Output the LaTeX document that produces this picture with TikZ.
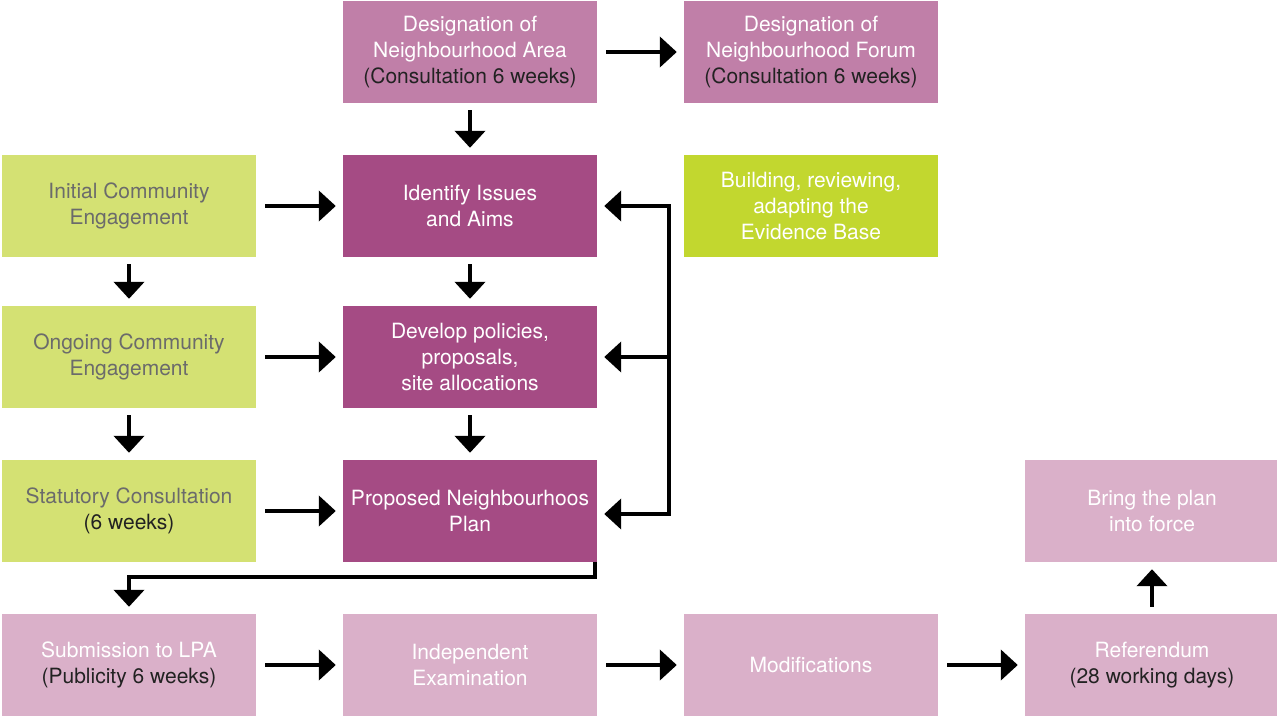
\documentclass[tikz,border=0pt]{standalone}
\usepackage{fontspec}
\setmainfont{TeX Gyre Heros}
\usetikzlibrary{arrows.meta,calc}
\definecolor{mauve}{HTML}{C07FA8}
\definecolor{plum}{HTML}{A54B84}
\definecolor{pale}{HTML}{DAB0C9}
\definecolor{leaf}{HTML}{D4E173}
\definecolor{lime}{HTML}{C2D72F}
\definecolor{greytext}{HTML}{6B6B6B}
\definecolor{darktext}{HTML}{222222}
\newcommand{\dk}[1]{\textcolor{darktext}{#1}}
\tikzstyle{box}=[rectangle,minimum width=254pt,minimum height=102pt,inner sep=0pt,align=center,font=\fontsize{21}{26}\selectfont]
\tikzstyle{mauvebox}=[box,fill=mauve,text=white]
\tikzstyle{plumbox}=[box,fill=plum,text=white]
\tikzstyle{palebox}=[box,fill=pale,text=white]
\tikzstyle{leafbox}=[box,fill=leaf,text=greytext]
\tikzstyle{limebox}=[box,fill=lime,text=white]
\tikzstyle{edge}=[draw,line width=4.5pt,-{Triangle[width=30pt,length=17pt]}]
\tikzstyle{bar}=[draw,line width=4.5pt]
\begin{document}
\begin{tikzpicture}[x=1pt,y=-1pt]
\useasboundingbox (0,0) rectangle (1277,716);

% boxes
\foreach \pos/\name/\sty/\txt in {
    {(470,52)/area/mauvebox/{Designation of\\Neighbourhood Area\\\dk{(Consultation 6 weeks)}}},
    {(811,52)/forum/mauvebox/{Designation of\\Neighbourhood Forum\\\dk{(Consultation 6 weeks)}}},
    {(129,206)/initial/leafbox/{Initial Community\\Engagement}},
    {(470,206)/issues/plumbox/{Identify Issues\\and Aims}},
    {(811,206)/evidence/limebox/{Building, reviewing,\\adapting the\\Evidence Base}},
    {(129,357)/ongoing/leafbox/{Ongoing Community\\Engagement}},
    {(470,357)/policies/plumbox/{Develop policies,\\proposals,\\site allocations}},
    {(129,511)/statutory/leafbox/{Statutory Consultation\\\dk{(6 weeks)}}},
    {(470,511)/proposed/plumbox/{Proposed Neighbourhoos\\Plan}},
    {(1152,511)/force/palebox/{Bring the plan\\into force}},
    {(129,665)/submission/palebox/{Submission to LPA\\\dk{(Publicity 6 weeks)}}},
    {(470,665)/exam/palebox/{Independent\\Examination}},
    {(811,665)/modif/palebox/{Modifications}},
    {(1152,665)/referendum/palebox/{Referendum\\\dk{(28 working days)}}}}
    \node[\sty] (\name) at \pos {\txt};

% horizontal arrows
\foreach \source/\dest in {area/forum, initial/issues, ongoing/policies, statutory/proposed, submission/exam, exam/modif, modif/referendum}
    \path[edge,shorten <=9pt,shorten >=7pt] (\source) -- (\dest);

% vertical arrows
\foreach \source/\dest in {area/issues, initial/ongoing, ongoing/statutory, issues/policies, policies/proposed, referendum/force}
    \path[edge,shorten <=7pt,shorten >=7pt] (\source) -- (\dest);

% evidence loop
\coordinate (looptop) at ($(issues.east)+(72,0)$);
\coordinate (loopmid) at ($(policies.east)+(72,0)$);
\coordinate (loopbot) at ($(proposed.east)+(72,3)$);
\path[bar,line cap=rect] (looptop) -- (loopbot);
\foreach \source/\dest in {looptop/issues, loopmid/policies, loopbot/proposed}
    \path[edge,shorten >=7pt] (\source) -- (\dest.east |- \source);

% to submission
\path[edge,shorten >=7pt] ([xshift=-2.25pt]proposed.south east) -- ++(0,15) -| (submission.north);

\end{tikzpicture}
\end{document}
